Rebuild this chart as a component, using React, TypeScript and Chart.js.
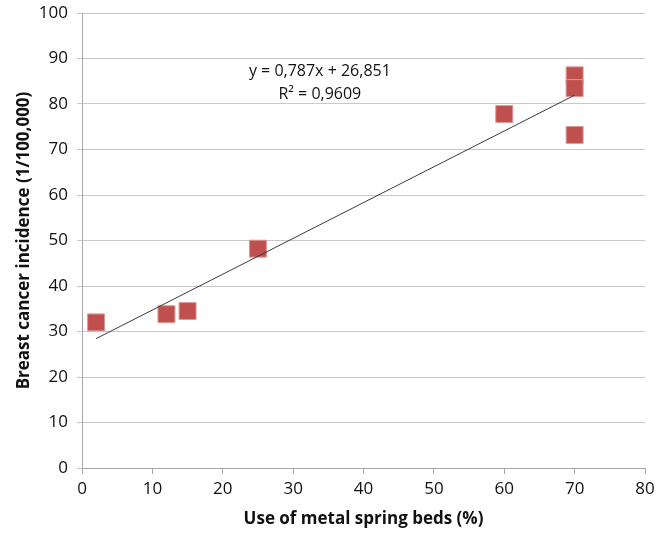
import React, { useEffect, useRef } from "react";
import { Chart, registerables } from "chart.js";

Chart.register(...registerables);

const bedUse = [2, 12, 15, 25, 60, 70, 70, 70];
const incidence = [32.0, 33.8, 34.5, 48.2, 77.8, 86.3, 83.5, 73.2];
const slope = 0.787;
const intercept = 26.851;
const eqLine1 = "y = 0,787x + 26,851";
const eqLine2 = "R² = 0,9609";
const xTitle = "Use of metal spring beds (%)";
const yTitle = "Breast cancer incidence (1/100,000)";

const FONT = "'Open Sans', 'Noto Sans', sans-serif";

export default function App() {
  const ref = useRef<HTMLCanvasElement | null>(null);
  useEffect(() => {
    if (!ref.current) return;
    const xmin = Math.min(...bedUse);
    const xmax = Math.max(...bedUse);
    const trend = [
      { x: xmin, y: slope * xmin + intercept },
      { x: xmax, y: slope * xmax + intercept },
    ];
    const eqPlugin = {
      id: "eq",
      afterDatasetsDraw(chart: any) {
        const { ctx, scales } = chart;
        const cx = scales.x.getPixelForValue(33.8);
        const y1 = scales.y.getPixelForValue(87.1);
        const y2 = scales.y.getPixelForValue(82.0);
        ctx.save();
        ctx.fillStyle = "#111";
        ctx.font = `16px ${FONT}`;
        ctx.textAlign = "center";
        ctx.textBaseline = "middle";
        ctx.fillText(eqLine1, cx, y1);
        ctx.fillText(eqLine2, cx, y2);
        ctx.restore();
      },
    };
    const chart = new Chart(ref.current, {
      type: "scatter",
      data: {
        datasets: [
          {
            label: "data",
            data: bedUse.map((x, i) => ({ x, y: incidence[i] })),
            pointStyle: "rect",
            pointRadius: 12,
            backgroundColor: "#c0504d",
            borderColor: "#dc9a98",
            borderWidth: 1,
            order: 2,
          },
          {
            label: "trend",
            type: "line",
            data: trend,
            borderColor: "#3a3a3a",
            borderWidth: 1,
            pointRadius: 0,
            showLine: true,
            order: 1,
          } as any,
        ],
      },
      options: {
        animation: false,
        responsive: false,
        layout: { padding: { left: 10, right: 23, top: 13, bottom: 2 } },
        plugins: { legend: { display: false }, tooltip: { enabled: false } },
        scales: {
          x: {
            type: "linear",
            min: 0,
            max: 80,
            ticks: { stepSize: 10, color: "#111", font: { family: FONT, size: 17 }, padding: 5 },
            grid: { drawOnChartArea: false, drawTicks: true, tickLength: 6, color: "#a6a6a6" },
            border: { color: "#a6a6a6" },
            title: { display: true, text: xTitle, color: "#111", font: { family: FONT, size: 17, weight: "bold" }, padding: { top: 4, bottom: 4 } },
            afterFit(scale: any) { scale.height = 65; scale.paddingRight = 0; scale.paddingLeft = 0; },
          },
          y: {
            type: "linear",
            min: 0,
            max: 100,
            ticks: { stepSize: 10, color: "#111", font: { family: FONT, size: 17 }, padding: 9 },
            grid: { color: "#c8c8c8", drawTicks: true, tickLength: 5 },
            border: { color: "#a6a6a6" },
            title: { display: true, text: yTitle, color: "#111", font: { family: FONT, size: 17, weight: "bold" }, padding: { top: 4, bottom: 4 } },
            afterFit(scale: any) { scale.width = 72; scale.paddingTop = 0; scale.paddingBottom = 0; },
          },
        },
      },
      plugins: [eqPlugin],
    });
    return () => chart.destroy();
  }, []);
  return (
    <div style={{ position: "fixed", left: 0, top: 0, width: 668, height: 535, background: "#fff" }}>
      <canvas ref={ref} width={668} height={535} />
    </div>
  );
}
